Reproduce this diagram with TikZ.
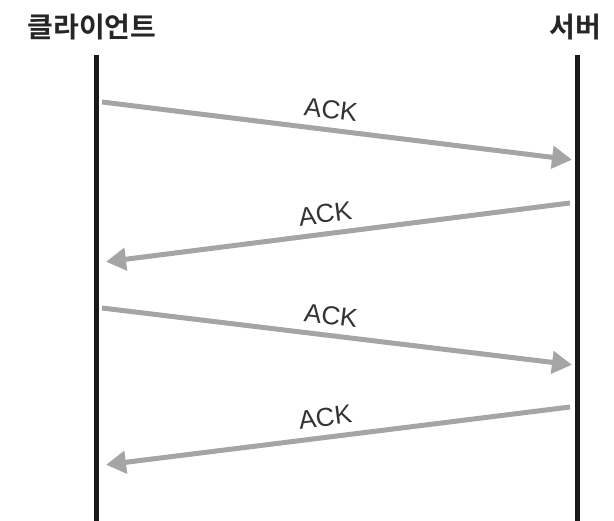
\documentclass[tikz,border=0pt]{standalone}
\usepackage{fontspec}
\setmainfont{Liberation Sans}
\newfontfamily\krfont{Noto Sans CJK KR}[BoldFont={* Bold}]
\usetikzlibrary{arrows.meta}
\definecolor{arrgray}{HTML}{A5A5A5}
\definecolor{lblgray}{HTML}{333333}
\begin{document}
\begin{tikzpicture}[x=1pt,y=-1pt,
  lifeline/.style={line width=5pt,black!90},
  msg/.style={line width=5pt,arrgray,-{Triangle[length=20pt,width=22pt]},shorten >=2pt},
  lbl/.style={font=\fontsize{26}{26}\selectfont,text=lblgray,sloped,above=5pt},
  hdr/.style={font=\krfont\fontsize{28}{28}\selectfont\bfseries,text=black!85}]
\useasboundingbox (0,0) rectangle (614,521);
\node[hdr] (client) at (92,27) {클라이언트};
\node[hdr] (server) at (575,27) {서버};
\coordinate (ctop) at (96,55); \coordinate (cbot) at (96,521);
\coordinate (stop) at (577,55); \coordinate (sbot) at (577,521);
\draw[lifeline] (ctop) -- (cbot);
\draw[lifeline] (stop) -- (sbot);
\coordinate (c1) at (102,102); \coordinate (s1) at (574,160);
\coordinate (s2) at (570,203); \coordinate (c2) at (104,262);
\coordinate (c3) at (102,308); \coordinate (s3) at (574,365);
\coordinate (s4) at (570,407); \coordinate (c4) at (104,465);
\draw[msg] (c1) -- node[lbl,pos=0.48] (a1) {ACK} (s1);
\draw[msg] (s2) -- node[lbl,pos=0.52] (a2) {ACK} (c2);
\draw[msg] (c3) -- node[lbl,pos=0.48] (a3) {ACK} (s3);
\draw[msg] (s4) -- node[lbl,pos=0.52] (a4) {ACK} (c4);
\end{tikzpicture}
\end{document}
